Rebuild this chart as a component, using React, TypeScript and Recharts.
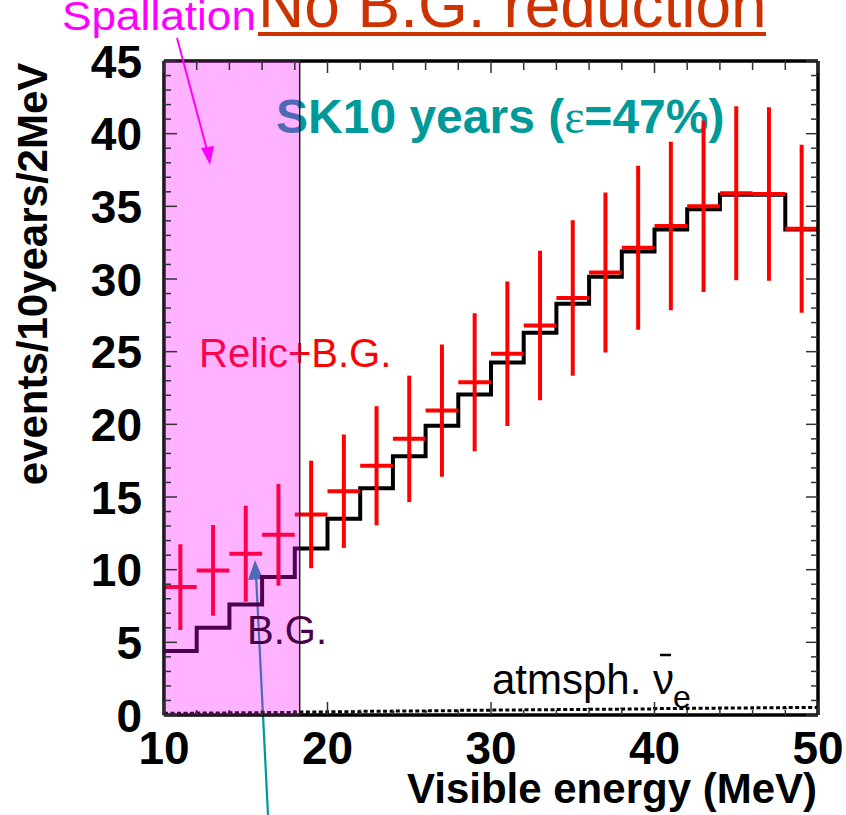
import React from 'react';
import { ComposedChart, Line, Scatter, ErrorBar, XAxis, YAxis, ReferenceArea } from 'recharts';

// ---- data ----
const binEdges = [10, 12, 14, 16, 18, 20, 22, 24, 26, 28, 30, 32, 34, 36, 38, 40, 42, 44, 46, 48, 50];
const binCenters = [11, 13, 15, 17, 19, 21, 23, 25, 27, 29, 31, 33, 35, 37, 39, 41, 43, 45, 47, 49];
const bgCounts = [4.4, 6.0, 7.6, 9.5, 11.45, 13.5, 15.6, 17.8, 19.9, 22.05, 24.25, 26.3, 28.3, 30.15, 31.9, 33.4, 34.8, 35.8, 35.8, 33.4];
const relicBgCounts = [8.8, 9.95, 11.1, 12.4, 13.8, 15.4, 17.15, 19.0, 20.95, 22.9, 24.85, 26.8, 28.7, 30.45, 32.15, 33.65, 35.0, 35.9, 35.85, 33.45];
const relicBgErrors = [2.95, 3.12, 3.3, 3.5, 3.7, 3.9, 4.1, 4.35, 4.55, 4.75, 4.97, 5.15, 5.35, 5.5, 5.65, 5.8, 5.9, 5.98, 5.97, 5.78];
const atmCounts = [0.12, 0.14, 0.16, 0.18, 0.2, 0.23, 0.25, 0.27, 0.3, 0.32, 0.34, 0.36, 0.38, 0.4, 0.42, 0.44, 0.46, 0.48, 0.5, 0.52];
const spallationRange = [10, 18.3];
const xDomain = [10, 50];
const yDomain = [0, 45];
const xTicks = [10, 12, 14, 16, 18, 20, 22, 24, 26, 28, 30, 32, 34, 36, 38, 40, 42, 44, 46, 48, 50];
const xMajorTicks = [10, 20, 30, 40, 50];
const yTicks = Array.from({ length: 46 }, (_, i) => i);
const yMajorTicks = [0, 5, 10, 15, 20, 25, 30, 35, 40, 45];

const bgData = binEdges.map((e, i) => ({ x: e, y: bgCounts[Math.min(i, bgCounts.length - 1)] }));
const atmData = binEdges.map((e, i) => ({ x: e, y: atmCounts[Math.min(i, atmCounts.length - 1)] }));
const relicData = binCenters.map((c, i) => ({
  x: c,
  y: relicBgCounts[i],
  ey: relicBgErrors[i],
  ex: (binEdges[i + 1] - binEdges[i]) / 2,
}));

const FONT = '"Liberation Sans", Arial, Helvetica, sans-serif';
const TICK_COLOR = '#333';

const LeftTick = (props: any) => {
  const { x, y, payload } = props;
  const v = payload.value;
  const major = yMajorTicks.includes(v);
  return (
    <g>
      <line x1={x} x2={x + (major ? 13 : 7)} y1={y} y2={y} stroke={TICK_COLOR} strokeWidth={1.5} />
      {major && (
        <text x={x - 22} y={y + 16.5} textAnchor="end" fontSize={46} fontWeight="bold" fontFamily={FONT} fill="#000">
          {v}
        </text>
      )}
    </g>
  );
};

const RightTick = (props: any) => {
  const { x, y, payload } = props;
  const major = yMajorTicks.includes(payload.value);
  return <line x1={x} x2={x - (major ? 12 : 7)} y1={y} y2={y} stroke={TICK_COLOR} strokeWidth={1.5} />;
};

const BottomTick = (props: any) => {
  const { x, y, payload } = props;
  const v = payload.value;
  const major = xMajorTicks.includes(v);
  return (
    <g>
      <line x1={x} x2={x} y1={y} y2={y - (major ? 13 : 5)} stroke={TICK_COLOR} strokeWidth={1.5} />
      {major && (
        <text x={x} y={y + 49} textAnchor="middle" fontSize={46} fontWeight="bold" fontFamily={FONT} fill="#000">
          {v}
        </text>
      )}
    </g>
  );
};

const TopTick = (props: any) => {
  const { x, y, payload } = props;
  const major = xMajorTicks.includes(payload.value);
  return <line x1={x} x2={x} y1={y} y2={y + (major ? 12 : 9)} stroke={TICK_COLOR} strokeWidth={1.5} />;
};

const NoShape = () => <g />;

export default function App() {
  const axisLine = { stroke: '#000', strokeWidth: 3.5 };
  return (
    <div style={{ position: 'absolute', left: 0, top: 0, width: 846, height: 815, background: '#fff', overflow: 'hidden' }}>
      {/* layer under the chart (covered by the translucent spallation band) */}
      <svg width={846} height={815} style={{ position: 'absolute', left: 0, top: 0 }}>
        <text x={276} y={133} fontSize={48} fontWeight="bold" fontFamily={FONT} fill="#009999">
          SK10 years (<tspan fontFamily='"Liberation Serif", "DejaVu Serif", serif' fontWeight="normal">ε</tspan>=47%)
        </text>
        <text x={199} y={367} fontSize={40} fontFamily={FONT} fill="#FF0000">
          Relic+B.G.
        </text>
        <line x1={268} y1={815} x2={256} y2={575} stroke="#009999" strokeWidth={2.2} />
        <polygon points="255,560 248,580 263,579" fill="#009999" />
      </svg>

      <div style={{ position: 'absolute', left: 0, top: 0 }}>
        <ComposedChart width={846} height={815} margin={{ top: 60, right: 27, bottom: 99, left: 163 }}>
          <XAxis
            xAxisId="b"
            dataKey="x"
            type="number"
            domain={xDomain}
            allowDataOverflow
            ticks={xTicks}
            interval={0}
            tickSize={0}
            tickMargin={0}
            tickLine={false}
            height={1}
            axisLine={axisLine}
            tick={<BottomTick />}
          />
          <XAxis
            xAxisId="t"
            orientation="top"
            dataKey="x"
            type="number"
            domain={xDomain}
            allowDataOverflow
            ticks={xTicks}
            interval={0}
            tickSize={0}
            tickMargin={0}
            tickLine={false}
            height={1}
            axisLine={axisLine}
            tick={<TopTick />}
          />
          <YAxis
            yAxisId="l"
            dataKey="y"
            type="number"
            domain={yDomain}
            allowDataOverflow
            ticks={yTicks}
            interval={0}
            tickSize={0}
            tickMargin={0}
            tickLine={false}
            width={1}
            axisLine={axisLine}
            tick={<LeftTick />}
          />
          <YAxis
            yAxisId="r"
            orientation="right"
            dataKey="y"
            type="number"
            domain={yDomain}
            allowDataOverflow
            ticks={yTicks}
            interval={0}
            tickSize={0}
            tickMargin={0}
            tickLine={false}
            width={1}
            axisLine={axisLine}
            tick={<RightTick />}
          />
          <Line
            xAxisId="t"
            yAxisId="r"
            data={atmData}
            dataKey="y"
            type="stepAfter"
            stroke="#000"
            strokeWidth={3}
            strokeDasharray="4 2.5"
            dot={false}
            activeDot={false}
            isAnimationActive={false}
          />
          <Line
            xAxisId="b"
            yAxisId="l"
            data={bgData}
            dataKey="y"
            type="stepAfter"
            stroke="#000"
            strokeWidth={4}
            strokeLinejoin="miter"
            dot={false}
            activeDot={false}
            isAnimationActive={false}
          />
          <Scatter xAxisId="b" yAxisId="l" data={relicData} dataKey="y" shape={<NoShape />} isAnimationActive={false}>
            <ErrorBar dataKey="ey" direction="y" width={0} stroke="#FF0000" strokeWidth={4} isAnimationActive={false} />
            <ErrorBar dataKey="ex" direction="x" width={0} stroke="#FF0000" strokeWidth={4} isAnimationActive={false} />
          </Scatter>
          <ReferenceArea
            xAxisId="b"
            yAxisId="l"
            x1={spallationRange[0]}
            x2={spallationRange[1]}
            y1={yDomain[0]}
            y2={yDomain[1]}
            fill="#FF00FF"
            fillOpacity={0.3}
            stroke="#222"
            strokeWidth={1.5}
            zIndex={1500}
          />
        </ComposedChart>
      </div>

      {/* layer above the chart */}
      <svg width={846} height={815} style={{ position: 'absolute', left: 0, top: 0, pointerEvents: 'none' }}>
        <text x={258} y={27} fontSize={64} fontFamily={FONT} fill="#CC3300">
          No B.G. reduction
        </text>
        <line x1={258} y1={34} x2={766} y2={34} stroke="#CC3300" strokeWidth={4} />
        <text x={62} y={30} fontSize={41} fontFamily={FONT} fill="#FF00FF" textLength={194} lengthAdjust="spacingAndGlyphs">
          Spallation
        </text>
        <line x1={177} y1={38} x2={207} y2={150} stroke="#FF00FF" strokeWidth={2} />
        <polygon points="210,165 201,148 214,146" fill="#FF00FF" />
        <text x={247} y={644} fontSize={40} fontFamily={FONT} fill="#4B0046">
          B.G.
        </text>
        <text x={492} y={694} fontSize={42} fontFamily={FONT} fill="#000">
          atmsph. ν
        </text>
        <line x1={660} y1={655} x2={671} y2={655} stroke="#000" strokeWidth={2.5} />
        <text x={673} y={708} fontSize={32} fontFamily={FONT} fill="#000">
          e
        </text>
        <text
          transform="translate(47, 274) rotate(-90)"
          textAnchor="middle"
          fontSize={42}
          fontWeight="bold"
          fontFamily={FONT}
          fill="#000"
        >
          events/10years/2MeV
        </text>
        <text x={817} y={803} textAnchor="end" fontSize={42} fontWeight="bold" fontFamily={FONT} fill="#000">
          Visible energy (MeV)
        </text>
      </svg>
    </div>
  );
}
